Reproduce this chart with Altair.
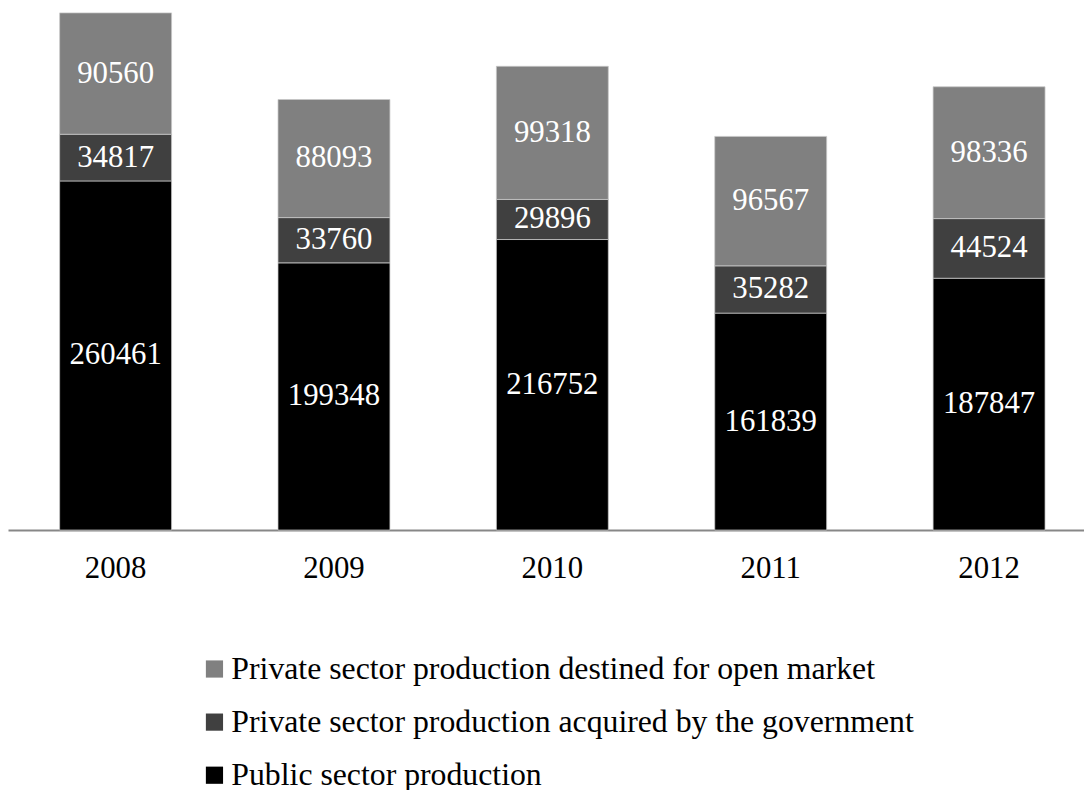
import altair as alt
import pandas as pd

years = ["2008", "2009", "2010", "2011", "2012"]
public = [260461, 199348, 216752, 161839, 187847]
acquired = [34817, 33760, 29896, 35282, 44524]
open_market = [90560, 88093, 99318, 96567, 98336]

series_names = [
    "Public sector production",
    "Private sector production acquired by the government",
    "Private sector production destined for open market",
]
series_values = [public, acquired, open_market]
series_colors = ["#000000", "#404040", "#808080"]

rows = []
for si, (name, vals) in enumerate(zip(series_names, series_values)):
    for y, v in zip(years, vals):
        rows.append({"year": y, "series": name, "value": v, "order": si})
df = pd.DataFrame(rows)

FONT = "Times New Roman, Liberation Serif, serif"

legend_domain = series_names[::-1]
legend_range = series_colors[::-1]

x_enc = alt.X(
    "year:N",
    title=None,
    scale=alt.Scale(paddingInner=0.4874, paddingOuter=0.2075, align=0.57),
    axis=alt.Axis(
        labelAngle=0,
        labelFontSize=31,
        labelFont=FONT,
        labelColor="#000000",
        labelPadding=24,
        ticks=False,
        domainColor="#878787",
        domainWidth=2,
        grid=False,
    ),
)

base = alt.Chart(df).transform_stack(
    stack="value",
    as_=["y0", "y1"],
    groupby=["year"],
    sort=[alt.SortField("order", order="ascending")],
).transform_calculate(mid="(datum.y0 + datum.y1) / 2")

bars = base.mark_bar(stroke="#c8c8c8", strokeWidth=0.75).encode(
    x=x_enc,
    y=alt.Y("y0:Q", scale=alt.Scale(domain=[0, 387319], nice=False), axis=None),
    y2="y1:Q",
    color=alt.Color(
        "series:N",
        scale=alt.Scale(domain=legend_domain, range=legend_range),
        legend=alt.Legend(
            title=None,
            orient="none",
            legendX=192,
            legendY=647,
            padding=0,
            direction="vertical",
            symbolType="square",
            symbolSize=300,
            symbolStrokeWidth=0,
            labelFontSize=32,
            labelFont=FONT,
            labelColor="#000000",
            labelOffset=1,
            rowPadding=21.5,
            labelLimit=1000,
        ),
    ),
)

labels = base.mark_text(
    color="#ffffff", fontSize=31, font=FONT, baseline="middle", align="center"
).encode(
    x=alt.X("year:N"),
    y=alt.Y("mid:Q"),
    text=alt.Text("value:Q", format="d"),
)

chart = (
    alt.layer(bars, labels)
    .properties(width=1084, height=523, padding=0)
    .configure_view(stroke=None)
)

chart.save("out.html", embed_options={"renderer": "svg", "actions": False})
